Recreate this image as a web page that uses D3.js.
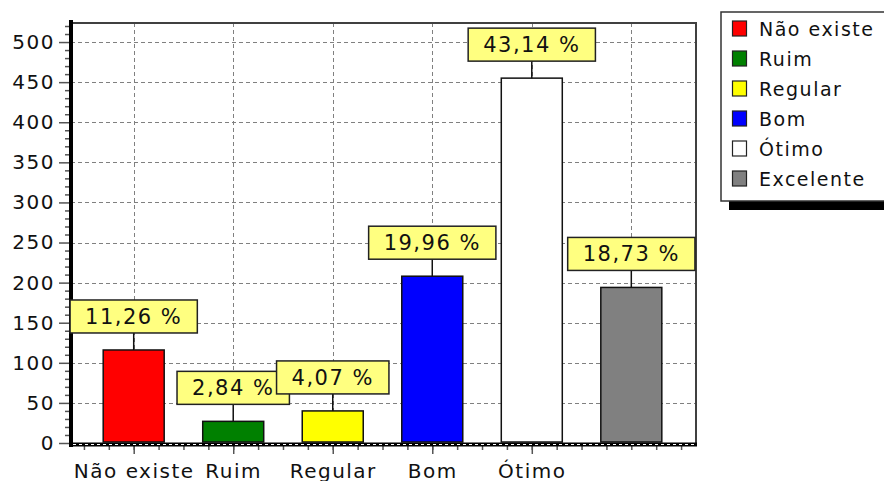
<!DOCTYPE html>
<html>
<head>
<meta charset="utf-8">
<script src="https://cdn.jsdelivr.net/npm/d3@7"></script>
<style>
  body { margin: 0; background: #fff; }
  svg { display: block; }
  text { font-family: "DejaVu Sans", sans-serif; fill: #111; }
</style>
</head>
<body>
<svg></svg>
<script>
// data
let categories = ["Não existe", "Ruim", "Regular", "Bom", "Ótimo", "Excelente"];
let counts = [116, 27, 40, 208, 455, 194];
let percents = ["11,26 %", "2,84 %", "4,07 %", "19,96 %", "43,14 %", "18,73 %"];
let colors = ["#ff0000", "#008000", "#ffff00", "#0000ff", "#ffffff", "#808080"];
let yTicks = [0, 50, 100, 150, 200, 250, 300, 350, 400, 450, 500];
let xLabelCount = 5; // "Excelente" has no axis label in the original

let width = 884;
let height = 481;
let svg = d3.select("svg")
            .attr("width", width)
            .attr("height", height);

let plotL = 71, plotR = 696, plotT = 23, plotB = 443;

let x = d3.scaleLinear().domain([-0.63, 5.65]).range([plotL, plotR]);
let y = d3.scaleLinear().domain([0, 525]).range([plotB, 22]);
let barW = 61;

// grid
let grid = svg.append("g").attr("stroke", "#808080").attr("stroke-dasharray", "4,3");
grid.selectAll(".h")
    .data(yTicks.slice(1))
    .enter()
    .append("line")
    .attr("x1", plotL).attr("x2", plotR)
    .attr("y1", d => Math.round(y(d)) + 0.5)
    .attr("y2", d => Math.round(y(d)) + 0.5);
grid.selectAll(".v")
    .data(d3.range(categories.length))
    .enter()
    .append("line")
    .attr("x1", d => Math.round(x(d)) + 0.5)
    .attr("x2", d => Math.round(x(d)) + 0.5)
    .attr("y1", plotT).attr("y2", plotB);

// frame top / right
svg.append("line").attr("x1", plotL).attr("x2", plotR).attr("y1", plotT).attr("y2", plotT)
    .attr("stroke", "#404040").attr("stroke-width", 2);
svg.append("line").attr("x1", plotR).attr("x2", plotR).attr("y1", plotT - 1).attr("y2", plotB + 3)
    .attr("stroke", "#404040").attr("stroke-width", 2);

// bars
svg.append("g")
    .selectAll("rect")
    .data(counts)
    .enter()
    .append("rect")
    .attr("x", (d, i) => x(i) - barW / 2)
    .attr("width", barW)
    .attr("y", d => y(d))
    .attr("height", d => y(0) - y(d) - 1)
    .attr("fill", (d, i) => colors[i])
    .attr("stroke", "#111")
    .attr("stroke-width", 1.5);

// y axis
let yAxis = svg.append("g")
    .attr("transform", `translate(${plotL},0)`)
    .call(d3.axisLeft(y).tickValues(yTicks).tickSize(12).tickPadding(4));
yAxis.select(".domain").remove();
yAxis.selectAll(".tick line").attr("stroke", "#555").attr("stroke-width", 1.5);
yAxis.selectAll(".tick text")
    .attr("font-size", 20)
    .attr("letter-spacing", 1.5)
    .attr("font-family", "DejaVu Sans")
    .attr("fill", "#111");

let yMinor = svg.append("g")
    .attr("transform", `translate(${plotL},0)`)
    .call(d3.axisLeft(y).tickValues(d3.range(0, 521, 10).filter(v => v % 50 !== 0)).tickSize(6).tickFormat(""));
yMinor.select(".domain").remove();
yMinor.selectAll(".tick line").attr("stroke", "#555").attr("stroke-width", 1.5);

svg.append("line").attr("x1", plotL).attr("x2", plotL).attr("y1", 20).attr("y2", plotB + 4)
    .attr("stroke", "#000").attr("stroke-width", 4);

// x axis
let xMinor = svg.append("g")
    .attr("transform", `translate(0,${plotB + 3})`)
    .call(d3.axisBottom(x).tickValues(d3.range(-0.5, 5.6, 0.25)).tickSize(4).tickFormat(""));
xMinor.select(".domain").remove();
xMinor.selectAll(".tick line").attr("stroke", "#555").attr("stroke-width", 1.5);

let xAxis = svg.append("g")
    .attr("transform", `translate(0,${plotB + 3})`)
    .call(d3.axisBottom(x)
        .tickValues(d3.range(xLabelCount))
        .tickSize(8)
        .tickPadding(10)
        .tickFormat(i => categories[i]));
xAxis.select(".domain").remove();
xAxis.selectAll(".tick line").attr("stroke", "#555").attr("stroke-width", 1.5);
xAxis.selectAll(".tick text")
    .attr("font-size", 20)
    .attr("letter-spacing", 1.5)
    .attr("font-family", "DejaVu Sans")
    .attr("fill", "#111");

svg.append("line").attr("x1", plotL - 2).attr("x2", plotR + 1).attr("y1", plotB + 1.5).attr("y2", plotB + 1.5)
    .attr("stroke", "#000").attr("stroke-width", 4);
svg.append("line").attr("x1", plotL + 2).attr("x2", plotR).attr("y1", plotB + 1.5).attr("y2", plotB + 1.5)
    .attr("stroke", "#fff").attr("stroke-width", 1).attr("stroke-dasharray", "3,3");

// value labels
let labels = svg.append("g");
counts.forEach((d, i) => {
    let cx = x(i);
    let boxBottom = y(d) - 17;
    let g = labels.append("g");
    g.append("line")
        .attr("x1", cx).attr("x2", cx)
        .attr("y1", boxBottom).attr("y2", y(d))
        .attr("stroke", "#111").attr("stroke-width", 1.5);
    let rect = g.append("rect");
    let t = g.append("text")
        .attr("x", cx)
        .attr("y", boxBottom - 9)
        .attr("text-anchor", "middle")
        .attr("font-size", 21)
        .attr("letter-spacing", 1.5)
        .text(percents[i]);
    let w = t.node().getComputedTextLength() + 30;
    rect.attr("x", cx - w / 2)
        .attr("y", boxBottom - 33)
        .attr("width", w)
        .attr("height", 33)
        .attr("fill", "#ffff80")
        .attr("stroke", "#222")
        .attr("stroke-width", 1.5);
});

// legend
let legend = svg.append("g");
legend.append("rect")
    .attr("x", 729).attr("y", 201)
    .attr("width", 170).attr("height", 9)
    .attr("fill", "#000");
legend.append("rect")
    .attr("x", 721).attr("y", 12)
    .attr("width", 170).attr("height", 189)
    .attr("fill", "#fff")
    .attr("stroke", "#333")
    .attr("stroke-width", 1.5);

let item = legend.selectAll(".item")
    .data(categories)
    .enter()
    .append("g")
    .attr("transform", (d, i) => `translate(0, ${i * 30})`);
item.append("rect")
    .attr("x", 732.5).attr("y", 21)
    .attr("width", 14).attr("height", 15)
    .attr("fill", (d, i) => colors[i])
    .attr("stroke", "#222")
    .attr("stroke-width", 1.2);
item.append("text")
    .attr("x", 759)
    .attr("y", 36)
    .attr("font-size", 19)
    .attr("letter-spacing", 1.5)
    .text(d => d);
</script>
</body>
</html>
